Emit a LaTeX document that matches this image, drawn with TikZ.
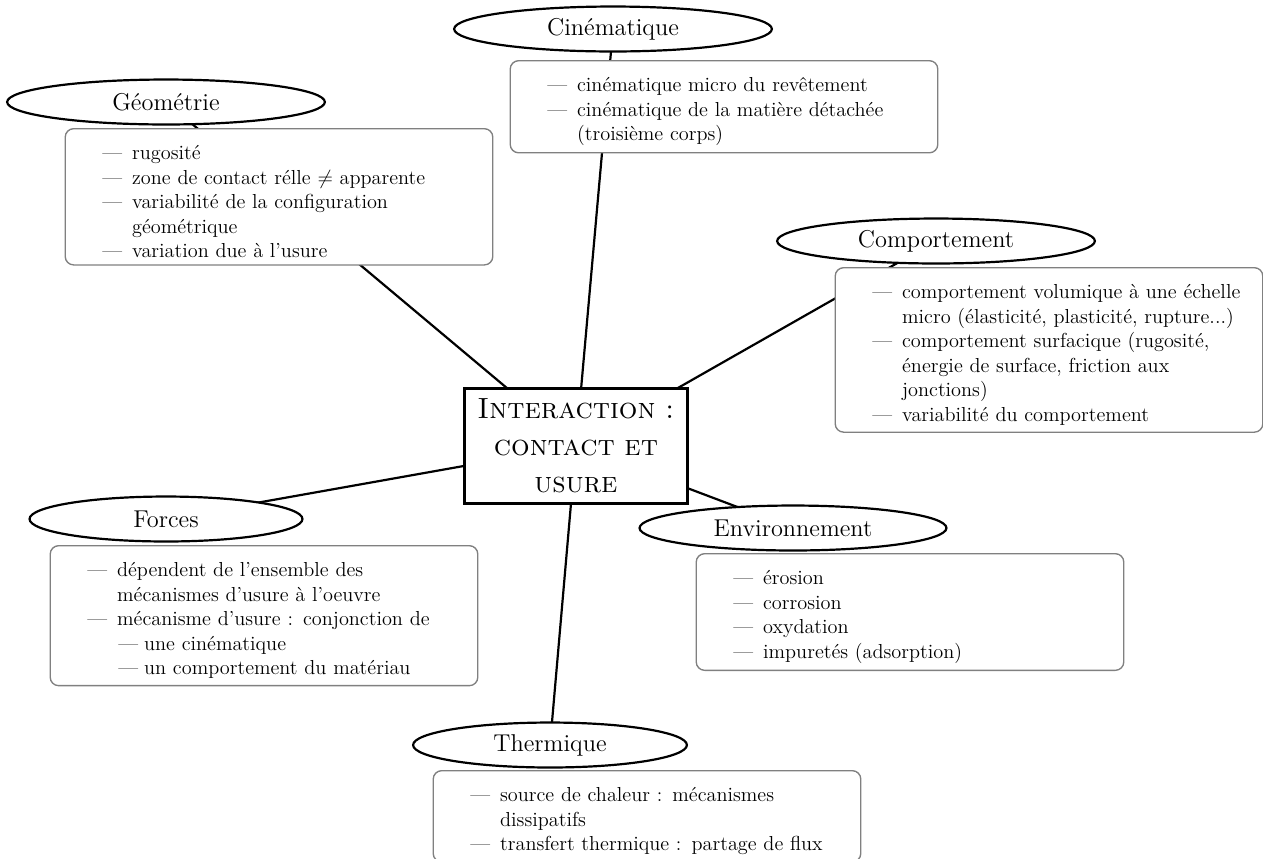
\documentclass[tikz,border=0pt,12pt]{standalone}
\usepackage{fontspec}
\usepackage{amsmath,amssymb}
\usepackage{enumitem}
\usepackage{tikz}
\usetikzlibrary{shapes.geometric,backgrounds,positioning}
\definecolor{cBord}{HTML}{808080}
\setlist[itemize]{nosep,label=---}
\setlist[itemize,1]{leftmargin=34.6pt,labelwidth=12pt,labelsep=5.9pt}
\setlist[itemize,2]{leftmargin=16pt,labelwidth=12pt,labelsep=3.5pt}
\tikzset{
  titre/.style={ellipse, draw=black, line width=1.3pt, fill=white, font=\large,
                minimum height=26.6pt, inner sep=0pt},
  liste/.style={rounded corners=5pt, draw=cBord, line width=0.8pt, fill=white,
                text width=243pt, inner xsep=5pt, inner ysep=4pt, anchor=north,
                font=\normalsize},
  coeur/.style={draw=black, line width=2pt, fill=white, text width=120pt,
                align=center, font=\Large\scshape, inner sep=6pt},
  lien/.style={line width=1.3pt, draw=black},
}

\begin{document}
\begin{tikzpicture}[x=0.5917pt, y=-0.5917pt]
  \useasboundingbox (0,0) rectangle (1263,858);
  \node[coeur, minimum height=65.7pt] (inter) at (576,446) {Interaction :\\ contact et\\ usure};

  % geometrie
  \node[titre, minimum width=188pt] (geo) at (166,102) {Géométrie};
  \node[liste] (geoL) at (279,128) {\begin{itemize}
    \item rugosité
    \item zone de contact rélle $\neq$ apparente
    \item variabilité de la configuration\\ géométrique
    \item variation due à l'usure
  \end{itemize}};

  % cinematique
  \node[titre, minimum width=188pt] (cine) at (613,29) {Cinématique};
  \node[liste] (cineL) at (724,60) {\begin{itemize}
    \item cinématique micro du revêtement
    \item cinématique de la matière détachée\\ (troisième corps)
  \end{itemize}};

  % comportement
  \node[titre, minimum width=188pt] (comp) at (936,241) {Comportement};
  \node[liste] (compL) at (1049,267) {\begin{itemize}
    \item comportement volumique à une échelle\\ micro (élasticité, plasticité, rupture...)
    \item comportement surfacique (rugosité,\\ énergie de surface, friction aux\\ jonctions)
    \item variabilité du comportement
  \end{itemize}};

  % forces
  \node[titre, minimum width=161.5pt] (forces) at (166,519) {Forces};
  \node[liste] (forcesL) at (264,545) {\begin{itemize}
    \item dépendent de l'ensemble des\\ mécanismes d'usure à l'oeuvre
    \item mécanisme d'usure~: conjonction de
      \begin{itemize}
        \item une cinématique
        \item un comportement du matériau
      \end{itemize}
  \end{itemize}};

  % environnement
  \node[titre, minimum width=181.6pt] (env) at (793,528) {Environnement};
  \node[liste] (envL) at (910,553) {\begin{itemize}
    \item érosion
    \item corrosion
    \item oxydation
    \item impuretés (adsorption)
  \end{itemize}};

  % thermique
  \node[titre, minimum width=162pt] (therm) at (550,745) {Thermique};
  \node[liste] (thermL) at (647,770) {\begin{itemize}
    \item source de chaleur~: mécanismes\\ dissipatifs
    \item transfert thermique~: partage de flux
  \end{itemize}};

  \begin{scope}[on background layer]
    \foreach \b in {geo,cine,comp,forces,env,therm}
      \draw[lien] (inter.center) -- (\b.center);
  \end{scope}
\end{tikzpicture}
\end{document}
